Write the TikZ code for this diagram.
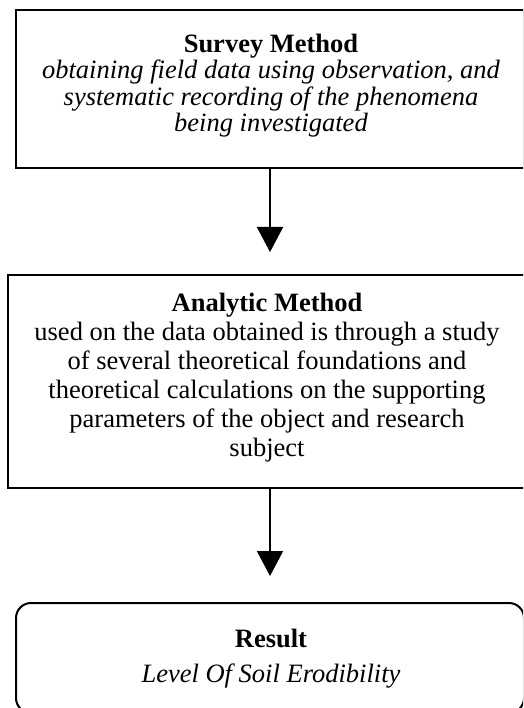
\documentclass[tikz,border=0pt]{standalone}
\usepackage{fontspec}
\setmainfont{Liberation Serif}
\usetikzlibrary{arrows.meta}
\tikzset{
  box/.style={draw, line width=2pt, inner sep=0pt},
  txt/.style={inner sep=0pt, align=center, anchor=north},
  flow/.style={line width=2pt, -{Triangle[length=25pt,width=26pt]}}
}
\begin{document}
\begin{tikzpicture}[x=1pt,y=-1pt]
\useasboundingbox (0,0) rectangle (523,708);
\clip (0,0) rectangle (523,708);
\node[box, minimum width=508pt, minimum height=158pt] (b1) at (270,89) {};
\node[box, minimum width=524pt, minimum height=213pt] (b2) at (270,381.5) {};
\node[box, rounded corners=15pt, minimum width=508pt, minimum height=110pt] (b3) at (270,658) {};
\node[txt, font={\fontsize{26.5}{26.5}\selectfont}] (t1) at (271,33.5)
  {\textbf{Survey Method}\\ \textit{obtaining field data using observation, and}\\ \textit{systematic recording of the phenomena}\\ \textit{being investigated}};
\node[txt, font={\fontsize{26.5}{29}\selectfont}] (t2) at (267,293)
  {\textbf{Analytic Method}\\ used on the data obtained is through a study\\ of several theoretical foundations and\\ theoretical calculations on the supporting\\ parameters of the object and research\\ subject};
\node[txt, font={\fontsize{26.5}{35}\selectfont}] (t3) at (271,628.5)
  {\textbf{Result}\\ \textit{Level Of Soil Erodibility}};
\draw[flow, shorten >=22pt] (b1.south) -- (b2.north);
\draw[flow, shorten >=26pt] (b2.south) -- (b3.north);
\end{tikzpicture}
\end{document}
